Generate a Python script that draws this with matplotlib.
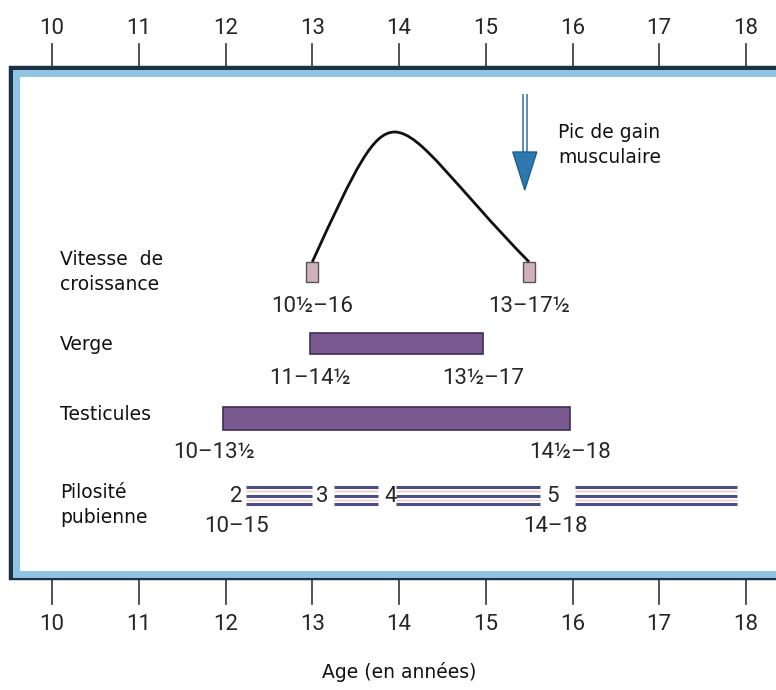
import matplotlib
matplotlib.use("Agg")
import matplotlib.pyplot as plt
from matplotlib.patches import Rectangle, Polygon, PathPatch
from matplotlib.path import Path
import numpy as np

# ---------------- data ----------------
ages = [10, 11, 12, 13, 14, 15, 16, 17, 18]
xlabel = "Age (en années)"

row_labels = ["Vitesse  de\ncroissance", "Verge", "Testicules", "Pilosité\npubienne"]

# growth velocity curve: start, peak, end (age)
curve_start, curve_peak, curve_end = 13.0, 13.95, 15.5
curve_start_label = "10½–16"
curve_end_label = "13–17½"

# bars (age start, age end)
verge_range = (12.97, 14.97)
verge_labels = ["11–14½", "13½–17"]
testicules_range = (11.97, 15.97)
testicules_labels = ["10–13½", "14½–18"]

# pubic hair stages
stage_names = ["2", "3", "4", "5"]
stage_label_x = [12.12, 13.12, 13.9, 15.77]
stage_segments = [(12.24, 13.0), (13.25, 13.76), (13.96, 15.62), (16.03, 17.9)]
pilo_labels = ["10–15", "14–18"]
pilo_label_x = [12.13, 15.8]

arrow_x = 15.45
arrow_text = "Pic de gain\nmusculaire"

# ---------------- layout helpers ----------------
px0, px_per_year = 52.0, 86.75

W, H = 776, 690
fig = plt.figure(figsize=(W / 100, H / 100), dpi=100)
ax = fig.add_axes([0, 0, 1, 1])
ax.set_xlim(10 - px0 / px_per_year, 10 + (W - px0) / px_per_year)
ax.set_ylim(H, 0)
ax.axis("off")

num_font = dict(family=["Roboto", "DejaVu Sans"], fontsize=16, color="#262626")
txt_font = dict(family="DejaVu Sans", fontsize=13.5, color="#111111")

# box
box_top, box_bot = 68, 578
box_left_age = 10 - (px0 - 11) / px_per_year
ax.add_patch(Rectangle((box_left_age, box_top), 20, box_bot - box_top,
                       facecolor="white", edgecolor="#1c3148", lw=3.2, zorder=1))
inset = 4.5
ax.add_patch(Rectangle((box_left_age + inset / px_per_year, box_top + inset), 20,
                       box_bot - box_top - 2 * inset,
                       facecolor="white", edgecolor="#8fc4e2", lw=5, zorder=1.1))

# ticks & labels top / bottom
for a in ages:
    ax.plot([a, a], [44, box_top - 2], color="#333333", lw=1.2, zorder=2)
    ax.plot([a, a], [box_bot + 2, 604], color="#333333", lw=1.2, zorder=2)
    ax.text(a, 29, str(a), ha="center", va="center", **num_font)
    ax.text(a, 624, str(a), ha="center", va="center", **num_font)
ax.text(14.0, 672, xlabel, ha="center", va="center", **txt_font)

# row labels
lab_x = 10 - (px0 - 60) / px_per_year
ax.text(lab_x, 272, row_labels[0], ha="left", va="center", linespacing=1.45, **txt_font)
ax.text(lab_x, 345, row_labels[1], ha="left", va="center", **txt_font)
ax.text(lab_x, 415, row_labels[2], ha="left", va="center", **txt_font)
ax.text(lab_x, 505, row_labels[3], ha="left", va="center", linespacing=1.45, **txt_font)

# growth curve via Bezier path
ybase, ypeak = 262, 132
verts = [(curve_start, ybase),
         (curve_start + 0.5, ybase - 95), (curve_peak - 0.25, ypeak), (curve_peak, ypeak),
         (curve_peak + 0.3, ypeak), (curve_end - 0.85, ybase - 75), (curve_end, ybase)]
codes = [Path.MOVETO, Path.CURVE4, Path.CURVE4, Path.CURVE4, Path.CURVE4, Path.CURVE4, Path.CURVE4]
ax.add_patch(PathPatch(Path(verts, codes), facecolor="none", edgecolor="#111111", lw=2, zorder=3))
rw = 12 / px_per_year
for c in (curve_start, curve_end):
    ax.add_patch(Rectangle((c - rw / 2, 262), rw, 20, facecolor="#cfb0bb",
                           edgecolor="#555555", lw=1, zorder=3))
ax.text(curve_start, 306, curve_start_label, ha="center", va="center", **num_font)
ax.text(curve_end, 306, curve_end_label, ha="center", va="center", **num_font)

# arrow
sh_w = 4 / px_per_year
ax.plot([arrow_x - sh_w / 2, arrow_x - sh_w / 2], [95, 155], color="#5b8fb5", lw=1.4, zorder=3)
ax.plot([arrow_x + sh_w / 2, arrow_x + sh_w / 2], [95, 155], color="#5b8fb5", lw=1.4, zorder=3)
hw = 12 / px_per_year
ax.add_patch(Polygon([(arrow_x - hw, 152), (arrow_x + hw, 152), (arrow_x, 190)],
                     closed=True, facecolor="#2f78ad", edgecolor="#1e5f8f", lw=1, zorder=3))
ax.text(arrow_x + 33 / px_per_year, 145, arrow_text, ha="left", va="center",
        linespacing=1.4, **txt_font)

# bars
bar_col, bar_edge = "#7a5a90", "#3f2d52"
ax.add_patch(Rectangle((verge_range[0], 333), verge_range[1] - verge_range[0], 21,
                       facecolor=bar_col, edgecolor=bar_edge, lw=1.2, zorder=3))
ax.text(verge_range[0], 379, verge_labels[0], ha="center", va="center", **num_font)
ax.text(verge_range[1], 379, verge_labels[1], ha="center", va="center", **num_font)
ax.add_patch(Rectangle((testicules_range[0], 407), testicules_range[1] - testicules_range[0], 23,
                       facecolor=bar_col, edgecolor=bar_edge, lw=1.2, zorder=3))
ax.text(testicules_range[0] - 0.1, 453, testicules_labels[0], ha="center", va="center", **num_font)
ax.text(testicules_range[1], 453, testicules_labels[1], ha="center", va="center", **num_font)

# pubic hair stages
for name, xs in zip(stage_names, stage_label_x):
    ax.text(xs, 496, name, ha="center", va="center", **num_font)
for s, e in stage_segments:
    for yy in (487, 495.5, 504):
        ax.plot([s, e], [yy, yy], color="#4a4f86", lw=2.2, solid_capstyle="butt", zorder=3)
    for yy in (491.2, 499.8):
        ax.plot([s, e], [yy, yy], color="#f0c0c8", lw=1, solid_capstyle="butt", zorder=3)
for lab, xs in zip(pilo_labels, pilo_label_x):
    ax.text(xs, 526, lab, ha="center", va="center", **num_font)

fig.savefig("out.png", dpi=100)
